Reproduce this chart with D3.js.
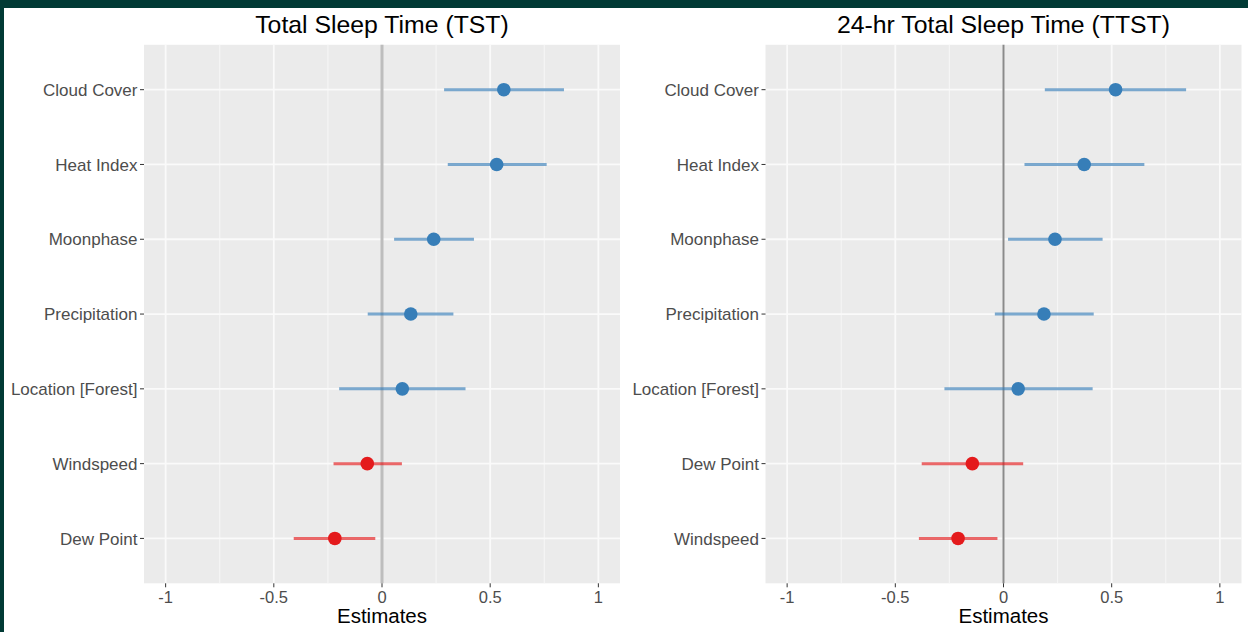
<!DOCTYPE html>
<html>
<head>
<meta charset="utf-8">
<script src="https://cdn.jsdelivr.net/npm/d3@7"></script>
<style>
  html, body { margin: 0; padding: 0; background: #fff; }
  svg { display: block; font-family: "Liberation Sans", Arial, sans-serif; }
  .tick-label { fill: #4d4d4d; font-size: 16.5px; }
  .y-label { font-size: 17px; }
  .panel-title { fill: #000; font-size: 24.8px; }
  .axis-title { fill: #000; font-size: 20.5px; }
</style>
</head>
<body>
<div id="chart"></div>
<script>
// total sleep time (TST) model
var tst_terms = ["Cloud Cover", "Heat Index", "Moonphase", "Precipitation", "Location [Forest]", "Windspeed", "Dew Point"];
var tst_est  = [0.563, 0.530, 0.239, 0.133, 0.094, -0.068, -0.218];
var tst_low  = [0.287, 0.304, 0.056, -0.066, -0.198, -0.224, -0.408];
var tst_high = [0.841, 0.761, 0.425, 0.330, 0.386, 0.092, -0.031];

// 24-hr total sleep time (TTST) model
var ttst_terms = ["Cloud Cover", "Heat Index", "Moonphase", "Precipitation", "Location [Forest]", "Dew Point", "Windspeed"];
var ttst_est  = [0.518, 0.373, 0.238, 0.187, 0.068, -0.144, -0.210];
var ttst_low  = [0.191, 0.097, 0.021, -0.040, -0.273, -0.378, -0.391];
var ttst_high = [0.844, 0.651, 0.458, 0.417, 0.412, 0.091, -0.028];

var x_ticks = [-1, -0.5, 0, 0.5, 1],
  x_tick_labels = ["-1", "-0.5", "0", "0.5", "1"],
  x_minor = [-0.75, -0.25, 0.25, 0.75];

var width = 1248, height = 632;

var svg = d3.select("#chart").append("svg")
    .attr("width", width)
    .attr("height", height);

// dark frame of the slide
svg.append("rect").attr("x", 0).attr("y", 0).attr("width", width).attr("height", 8).style("fill", "#013a35");
svg.append("rect").attr("x", 0).attr("y", 0).attr("width", 4).attr("height", height).style("fill", "#013a35");

var panel_top = 44.8, panel_bottom = 583.3;

drawPanel({
  title: "Total Sleep Time (TST)",
  terms: tst_terms, est: tst_est, low: tst_low, high: tst_high,
  x0: 144, x1: 620,
  zero_color: "#bdbdbd", zero_width: 3
});

drawPanel({
  title: "24-hr Total Sleep Time (TTST)",
  terms: ttst_terms, est: ttst_est, low: ttst_low, high: ttst_high,
  x0: 765.5, x1: 1241.5,
  zero_color: "#8a8a8a", zero_width: 2
});

function drawPanel(p){

  var x = d3.scaleLinear()
      .domain([-1.1, 1.1])
      .range([p.x0, p.x1]);

  var y = d3.scalePoint()
      .domain(p.terms)
      .range([panel_top, panel_bottom])
      .padding(0.6);

  var g = svg.append("g");

  g.append("rect")
      .attr("x", p.x0)
      .attr("y", panel_top)
      .attr("width", p.x1 - p.x0)
      .attr("height", panel_bottom - panel_top)
      .style("fill", "#ebebeb");

  g.selectAll(".minor")
      .data(x_minor)
    .enter().append("line")
      .attr("x1", function(d){ return x(d); })
      .attr("x2", function(d){ return x(d); })
      .attr("y1", panel_top).attr("y2", panel_bottom)
      .style("stroke", "#f5f5f5")
      .style("stroke-width", 1.2);

  g.selectAll(".major-x")
      .data(x_ticks)
    .enter().append("line")
      .attr("x1", function(d){ return x(d); })
      .attr("x2", function(d){ return x(d); })
      .attr("y1", panel_top).attr("y2", panel_bottom)
      .style("stroke", "#fafafa")
      .style("stroke-width", 1.8);

  g.selectAll(".major-y")
      .data(p.terms)
    .enter().append("line")
      .attr("x1", p.x0).attr("x2", p.x1)
      .attr("y1", function(d){ return y(d); })
      .attr("y2", function(d){ return y(d); })
      .style("stroke", "#fafafa")
      .style("stroke-width", 1.8);

  // zero line
  g.append("line")
      .attr("x1", x(0)).attr("x2", x(0))
      .attr("y1", panel_top).attr("y2", panel_bottom)
      .style("stroke", p.zero_color)
      .style("stroke-width", p.zero_width);

  function col(i){ return p.est[i] < 0 ? "#e41a1c" : "#377eb8"; }

  g.selectAll(".ci")
      .data(p.terms)
    .enter().append("line")
      .attr("x1", function(d, i){ return x(p.low[i]); })
      .attr("x2", function(d, i){ return x(p.high[i]); })
      .attr("y1", function(d){ return y(d); })
      .attr("y2", function(d){ return y(d); })
      .style("stroke", function(d, i){ return col(i); })
      .style("stroke-opacity", 0.65)
      .style("stroke-width", 3);

  g.selectAll(".pt")
      .data(p.terms)
    .enter().append("circle")
      .attr("cx", function(d, i){ return x(p.est[i]); })
      .attr("cy", function(d){ return y(d); })
      .attr("r", 6.8)
      .style("fill", function(d, i){ return col(i); });

  // y axis
  g.selectAll(".ytick")
      .data(p.terms)
    .enter().append("line")
      .attr("x1", p.x0 - 4).attr("x2", p.x0)
      .attr("y1", function(d){ return y(d); })
      .attr("y2", function(d){ return y(d); })
      .style("stroke", "#333")
      .style("stroke-width", 1);

  g.selectAll(".ylab")
      .data(p.terms)
    .enter().append("text")
      .attr("class", "tick-label y-label")
      .attr("x", p.x0 - 6.5)
      .attr("y", function(d){ return y(d); })
      .attr("dy", "0.36em")
      .attr("text-anchor", "end")
      .text(function(d){ return d; });

  // x axis
  g.selectAll(".xtick")
      .data(x_ticks)
    .enter().append("line")
      .attr("x1", function(d){ return x(d); })
      .attr("x2", function(d){ return x(d); })
      .attr("y1", panel_bottom).attr("y2", panel_bottom + 4)
      .style("stroke", "#333")
      .style("stroke-width", 1);

  g.selectAll(".xlab")
      .data(x_ticks)
    .enter().append("text")
      .attr("class", "tick-label")
      .attr("x", function(d){ return x(d); })
      .attr("y", 603)
      .attr("text-anchor", "middle")
      .text(function(d, i){ return x_tick_labels[i]; });

  g.append("text")
      .attr("class", "axis-title")
      .attr("x", (p.x0 + p.x1) / 2)
      .attr("y", 623)
      .attr("text-anchor", "middle")
      .text("Estimates");

  g.append("text")
      .attr("class", "panel-title")
      .attr("x", (p.x0 + p.x1) / 2)
      .attr("y", 33)
      .attr("text-anchor", "middle")
      .text(p.title);
}
</script>
</body>
</html>
